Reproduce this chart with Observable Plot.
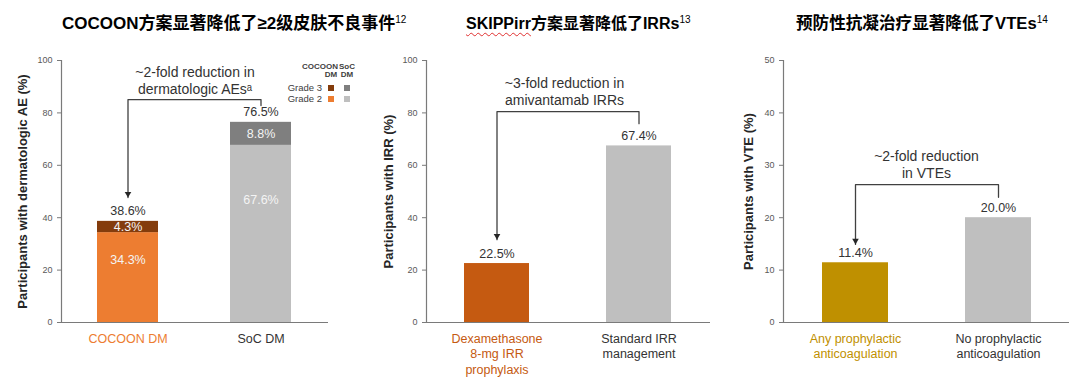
<!DOCTYPE html>
<html><head><meta charset="utf-8">
<script src="https://cdn.jsdelivr.net/npm/d3@7"></script>
<script src="https://cdn.jsdelivr.net/npm/@observablehq/plot@0.6"></script>
<style>
body{margin:0;background:#fff;}
#root{position:relative;width:1080px;height:384px;overflow:hidden;background:#fff;font-family:"Liberation Sans",Arial,"Noto Sans CJK SC",sans-serif;}
.title{position:absolute;top:14px;line-height:20px;font-size:16px;font-weight:bold;color:#000;white-space:nowrap;font-family:"Liberation Sans",Arial,"Noto Sans CJK SC",sans-serif;}
.title sup{font-size:10px;font-weight:normal;vertical-align:6px;line-height:0;}
.wavy{text-decoration:underline wavy #e03030;text-decoration-thickness:1px;text-underline-offset:3px;}
.panel{position:absolute;top:45px;width:360px;height:339px;}
.lg{position:absolute;font-size:9.5px;line-height:10px;color:#404040;white-space:nowrap;}
.lgh{font-size:8px;font-weight:bold;}
.sw{position:absolute;width:6px;height:6px;}
</style>
</head><body>
<div id="root">
  <div class="title" style="left:62px;font-size:17px">COCOON方案显著降低了≥2级皮肤不良事件<sup>12</sup></div>
  <div class="title" style="left:466px"><span class="wavy">SKIPPirr</span>方案显著降低了IRRs<sup>13</sup></div>
  <div class="title" style="left:796px;font-size:16.6px">预防性抗凝治疗显著降低了VTEs<sup>14</sup></div>
  <div class="panel" id="p1" style="left:0px"></div>
  <div class="panel" id="p2" style="left:360px"></div>
  <div class="panel" id="p3" style="left:720px"></div>
  <div id="legend"></div>
</div>
<script>
// ---------- data ----------
// Panel 1: dermatologic AEs
const p1Categories = ["COCOON DM", "SoC DM"];
const p1Grade2 = [34.3, 67.6];
const p1Grade3 = [4.3, 8.8];
const p1Totals = [38.6, 76.5];
const p1Ticks = [0, 20, 40, 60, 80, 100];
const p1YLabel = "Participants with dermatologic AE (%)";
const p1Note = "~2-fold reduction in\ndermatologic AEsᵃ";
const legendColumns = ["COCOON\nDM", "SoC\nDM"];
const legendRows = ["Grade 3", "Grade 2"];

// Panel 2: IRRs
const p2Categories = ["Dexamethasone\n8-mg IRR\nprophylaxis", "Standard IRR\nmanagement"];
const p2Values = [22.5, 67.4];
const p2Ticks = [0, 20, 40, 60, 80, 100];
const p2YLabel = "Participants with IRR (%)";
const p2Note = "~3-fold reduction in\namivantamab IRRs";

// Panel 3: VTEs
const p3Categories = ["Any prophylactic\nanticoagulation", "No prophylactic\nanticoagulation"];
const p3Values = [11.4, 20.0];
const p3Ticks = [0, 10, 20, 30, 40, 50];
const p3YLabel = "Participants with VTE (%)";
const p3Note = "~2-fold reduction\nin VTEs";

// ---------- styles ----------
const C = {
  orange: "#ED7D31", brown: "#843C0C", dex: "#C55A11", gold: "#BF9000",
  grayDark: "#7F7F7F", grayLight: "#BFBFBF", text: "#333333", axis: "#7a7a7a"
};
const downTriangle = {
  draw(ctx, size) {
    const h = Math.sqrt(size / Math.PI);
    ctx.moveTo(-h, -h * 1.7); ctx.lineTo(h, -h * 1.7); ctx.lineTo(0, 0); ctx.closePath();
  }
};

function makePanel(cfg) {
  const cats = cfg.categories;
  const brk = [
    {x: cats[0], y: cfg.bracket.tip},
    {x: cats[0], y: cfg.bracket.level},
    {x: cats[1], y: cfg.bracket.level},
    {x: cats[1], y: cfg.bracket.right}
  ];
  return Plot.plot({
    width: 360, height: 339,
    marginTop: 15, marginBottom: 62, marginLeft: cfg.marginLeft, marginRight: cfg.marginRight,
    x: {domain: cats, paddingInner: 0.54, paddingOuter: 0.27, axis: null},
    y: {domain: cfg.yDomain, axis: null},
    color: {type: "identity"},
    style: {fontFamily: "'Liberation Sans', Arial, sans-serif", fontSize: "12.5px", color: C.text, background: "white", overflow: "visible"},
    marks: [
      Plot.barY(cfg.bars, {x: "x", y1: "y1", y2: "y2", fill: "fill"}),
      Plot.ruleY([cfg.yDomain[0]], {stroke: C.axis, strokeWidth: 1.2}),
      Plot.frame({anchor: "left", stroke: C.axis, strokeWidth: 1.2}),
      Plot.axisY({ticks: cfg.ticks, tickSize: 4, tickPadding: 5, fontSize: 9, fill: "#595959", stroke: C.axis,
                  label: null, fontFamily: "'Liberation Sans Narrow', 'Liberation Sans', Arial, sans-serif"}),
      Plot.axisX({tickSize: 0, tickPadding: 9, fontSize: 12.5, lineHeight: 1.24, label: null,
                  fill: d => cfg.catColors[cats.indexOf(d)]}),
      Plot.text([cfg.yLabel], {text: d => d, frameAnchor: "left", textAnchor: "middle", rotate: -90, dx: cfg.labelDx,
                  fontSize: 13, fontWeight: "bold", fill: "#262626"}),
      Plot.text(cfg.tops, {x: "x", y: "y", text: "label", dy: -10, fontSize: 12.5, fill: C.text}),
      Plot.text(cfg.inner || [], {x: "x", y: "y", text: "label", fontSize: 12.5, fill: "#F4F4F4"}),
      Plot.line(brk, {x: "x", y: "y", stroke: "#404040", strokeWidth: 1.3}),
      Plot.dot([brk[0]], {x: "x", y: "y", symbol: downTriangle, r: 3.3, fill: "#262626", stroke: null}),
      Plot.text([cfg.note], {text: d => d, y: cfg.noteY, dx: cfg.noteDx || 0, fontSize: 14, lineHeight: 1.22, fill: C.text})
    ]
  });
}

// ---------- panel 1 ----------
const p1Fill = [[C.orange, C.brown], [C.grayLight, C.grayDark]];
const p1Bars = [], p1Inner = [];
p1Categories.forEach((c, i) => {
  const g2 = p1Grade2[i], g3 = p1Grade3[i];
  p1Bars.push({x: c, y1: 0, y2: g2, fill: p1Fill[i][0]});
  p1Bars.push({x: c, y1: g2, y2: g2 + g3, fill: p1Fill[i][1]});
  p1Inner.push({x: c, y: g2 * 0.69, label: g2.toFixed(1) + "%"});
  p1Inner.push({x: c, y: g2 + g3 / 2, label: g3.toFixed(1) + "%"});
});
document.getElementById("p1").append(makePanel({
  categories: p1Categories, yDomain: [0, 100], ticks: p1Ticks, yLabel: p1YLabel,
  marginLeft: 61, marginRight: 32, labelDx: -39,
  bars: p1Bars, inner: p1Inner,
  tops: p1Categories.map((c, i) => ({x: c, y: p1Grade2[i] + p1Grade3[i], label: p1Totals[i].toFixed(1) + "%"})),
  catColors: [C.orange, "#333333"],
  note: p1Note, noteY: 92.6,
  bracket: {tip: 47.7, level: 85.1, right: 82.8}
}));

// ---------- panel 2 ----------
document.getElementById("p2").append(makePanel({
  categories: p2Categories, yDomain: [0, 100], ticks: p2Ticks, yLabel: p2YLabel,
  marginLeft: 66, marginRight: 10, labelDx: -38,
  bars: p2Categories.map((c, i) => ({x: c, y1: 0, y2: p2Values[i], fill: [C.dex, C.grayLight][i]})),
  tops: p2Categories.map((c, i) => ({x: c, y: p2Values[i], label: p2Values[i].toFixed(1) + "%"})),
  catColors: [C.dex, "#333333"],
  note: p2Note, noteY: 88.2, noteDx: -4,
  bracket: {tip: 31.6, level: 80.5, right: 75.9}
}));

// ---------- panel 3 ----------
document.getElementById("p3").append(makePanel({
  categories: p3Categories, yDomain: [0, 50], ticks: p3Ticks, yLabel: p3YLabel,
  marginLeft: 63, marginRight: 11, labelDx: -35,
  bars: p3Categories.map((c, i) => ({x: c, y1: 0, y2: p3Values[i], fill: [C.gold, C.grayLight][i]})),
  tops: p3Categories.map((c, i) => ({x: c, y: p3Values[i], label: p3Values[i].toFixed(1) + "%"})),
  catColors: [C.gold, "#333333"],
  note: p3Note, noteY: 30.3,
  bracket: {tip: 14.9, level: 26.3, right: 23.9}
}));

// ---------- legend (panel 1) ----------
const lg = document.getElementById("legend");
const colCenters = [331, 347];
const rowCenters = [88, 99];
const swatch = [[C.brown, C.grayDark], [C.orange, C.grayLight]];
legendColumns.forEach((t, j) => {
  const [a, b] = t.split("\n");
  const h = document.createElement("div");
  h.className = "lg lgh";
  h.textContent = a;
  if (j === 0) { h.style.left = "290px"; h.style.width = "48px"; h.style.textAlign = "right"; }
  else { h.style.left = (colCenters[j] - 12) + "px"; h.style.width = "24px"; h.style.textAlign = "center"; }
  h.style.top = "62px";
  lg.append(h);
  const d = document.createElement("div");
  d.className = "lg lgh";
  d.textContent = b;
  d.style.left = (colCenters[j] - 12) + "px"; d.style.width = "24px"; d.style.textAlign = "center";
  d.style.top = "70px";
  lg.append(d);
});
legendRows.forEach((t, i) => {
  const r = document.createElement("div");
  r.className = "lg";
  r.textContent = t;
  r.style.left = "262px"; r.style.width = "60px"; r.style.textAlign = "right";
  r.style.top = (rowCenters[i] - 5) + "px";
  lg.append(r);
  colCenters.forEach((cx, j) => {
    const s = document.createElement("div");
    s.className = "sw";
    s.style.left = (cx - 3) + "px"; s.style.top = (rowCenters[i] - 3) + "px";
    s.style.background = swatch[i][j];
    lg.append(s);
  });
});
</script>
</body></html>
